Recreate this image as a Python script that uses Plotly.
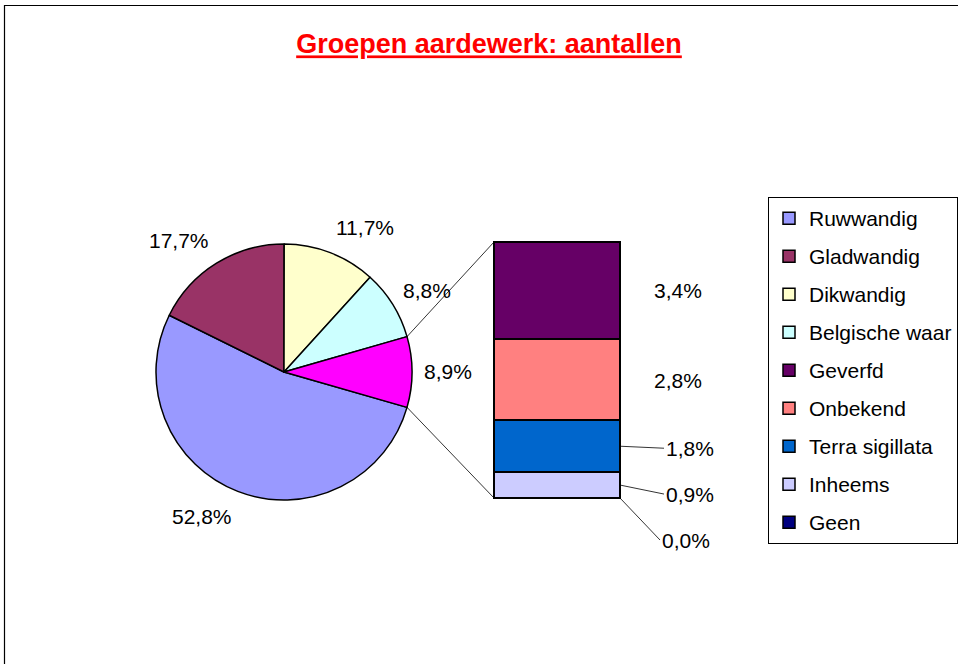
import math
import plotly.graph_objects as go

# ---------------- data ----------------
title_text = "Groepen aardewerk: aantallen"

pie_labels = ["Ruwwandig", "Gladwandig", "Dikwandig", "Belgische waar", "Overige"]
pie_values = [52.8, 17.7, 11.7, 8.8, 8.9]
pie_colors = ["#9999FF", "#993366", "#FFFFCC", "#CCFFFF", "#FF00FF"]

bar_labels = ["Geverfd", "Onbekend", "Terra sigillata", "Inheems", "Geen"]
bar_values = [3.4, 2.8, 1.8, 0.9, 0.0]
bar_colors = ["#660066", "#FF8080", "#0066CC", "#CCCCFF", "#000080"]

legend_order = ["Ruwwandig", "Gladwandig", "Dikwandig", "Belgische waar",
                "Geverfd", "Onbekend", "Terra sigillata", "Inheems", "Geen"]

# ---------------- layout geometry (pixels) ----------------
W, H = 958, 664
PIE_CX, PIE_CY, PIE_R = 284, 372, 128
BAR_L, BAR_R, BAR_T, BAR_B = 494, 620, 242, 498
FONT = "Arial, 'Liberation Sans', sans-serif"
FS = 21


def px(x):
    return x / W


def py(y):
    return 1 - y / H


def fmt(v):
    return f"{v:.1f}".replace(".", ",") + "%"


fig = go.Figure()

# ---------------- pie ----------------
total = sum(pie_values)
other_idx = len(pie_values) - 1
rotation = 90 + 180 * pie_values[other_idx] / total  # "other" slice centred at 3 o'clock

fig.add_trace(go.Pie(
    labels=pie_labels, values=pie_values, sort=False, direction="clockwise",
    rotation=rotation, textinfo="none", showlegend=False, hoverinfo="label+percent",
    marker=dict(colors=pie_colors, line=dict(color="black", width=1.5)),
    domain=dict(x=[px(PIE_CX - PIE_R), px(PIE_CX + PIE_R)],
                y=[py(PIE_CY + PIE_R), py(PIE_CY - PIE_R)]),
))

annotations = []
shapes = []
ang = rotation
slice_edges = []
for lab, v in zip(pie_labels, pie_values):
    a0 = ang
    a1 = ang + v / total * 360
    slice_edges.append((a0, a1))
    mid = math.radians((a0 + a1) / 2)
    s, c = math.sin(mid), math.cos(mid)
    d = PIE_R + 10
    x = PIE_CX + d * s
    y = PIE_CY - d * c - 17 * c
    annotations.append(dict(
        x=px(x), y=py(y), xref="paper", yref="paper", showarrow=False,
        xanchor="left" if s > 0.05 else ("right" if s < -0.05 else "center"),
        yanchor="middle", text=fmt(v), font=dict(family=FONT, size=FS, color="black")))
    ang = a1

# connector lines from "other" slice to the bar
oa0, oa1 = slice_edges[other_idx]
for a, by in ((oa0, BAR_T), (oa1, BAR_B)):
    r = math.radians(a)
    x0 = PIE_CX + PIE_R * math.sin(r)
    y0 = PIE_CY - PIE_R * math.cos(r)
    shapes.append(dict(type="line", xref="paper", yref="paper",
                       x0=px(x0), y0=py(y0), x1=px(BAR_L), y1=py(by),
                       line=dict(color="black", width=0.8)))

# ---------------- stacked bar ----------------
bar_total = sum(bar_values)
unit = (BAR_B - BAR_T) / bar_total
pad_y = 1.5 / unit
pad_x = 1.5 / (BAR_R - BAR_L)

rank = {n: i for i, n in enumerate(legend_order)}

for lab, v, col in reversed(list(zip(bar_labels, bar_values, bar_colors))):
    fig.add_trace(go.Bar(
        x=[0], y=[v], width=1, name=lab, legendgroup=lab, legendrank=rank[lab],
        marker=dict(color=col, line=dict(color="black", width=1.5)),
        hoverinfo="name+y",
    ))

# legend-only entries for the pie slices
for lab, col in zip(pie_labels[:other_idx], pie_colors[:other_idx]):
    fig.add_trace(go.Bar(
        x=[None], y=[None], name=lab, legendgroup=lab, legendrank=rank[lab],
        marker=dict(color=col, line=dict(color="black", width=1.5)),
        showlegend=True,
    ))

# bar labels
leader = {"Terra sigillata": (44, 2), "Inheems": (44, 9), "Geen": (40, 42)}
cum = 0
bottoms = {}
for lab, v in reversed(list(zip(bar_labels, bar_values))):
    bottoms[lab] = cum
    cum += v
for lab, v in zip(bar_labels, bar_values):
    ymid = bottoms[lab] + v / 2
    if lab in leader:
        ax, ay = leader[lab]
        annotations.append(dict(
            x=0.5, y=ymid, xref="x", yref="y", showarrow=True, arrowhead=0,
            arrowwidth=0.8, arrowcolor="black", ax=ax, ay=ay, xanchor="left",
            text=fmt(v), font=dict(family=FONT, size=FS, color="black")))
    else:
        annotations.append(dict(
            x=px(652), y=ymid, xref="paper", yref="y", showarrow=False,
            xanchor="left", yanchor="middle",
            text=fmt(v), font=dict(family=FONT, size=FS, color="black")))

# outer chart border (top/left visible; rest cut off)
shapes.append(dict(type="rect", xref="paper", yref="paper",
                   x0=px(4.5), x1=1.2, y0=-0.2, y1=py(5.5),
                   line=dict(color="black", width=1.2), layer="below"))

fig.update_layout(
    width=W, height=H, margin=dict(l=0, r=0, t=0, b=0),
    paper_bgcolor="white", plot_bgcolor="rgba(0,0,0,0)",
    barmode="stack", bargap=0,
    title=dict(text="<u>" + title_text + "</u>", x=px(489), y=py(44),
               xanchor="center", yanchor="middle", xref="paper", yref="paper",
               font=dict(family=FONT, size=27, color="#FF0000", weight="bold")),
    xaxis=dict(domain=[px(BAR_L - 1.5), px(BAR_R + 1.5)],
               range=[-0.5 - pad_x, 0.5 + pad_x], visible=False, fixedrange=True),
    yaxis=dict(domain=[py(BAR_B + 1.5), py(BAR_T - 1.5)],
               range=[-pad_y, bar_total + pad_y], visible=False, fixedrange=True),
    legend=dict(x=px(768), y=py(197), xanchor="left", yanchor="top",
                bordercolor="black", borderwidth=1, bgcolor="white",
                font=dict(family=FONT, size=FS, color="black"),
                traceorder="grouped", tracegroupgap=7.7),
    annotations=annotations, shapes=shapes,
    showlegend=True,
)

fig.write_html("out.html", config={"responsive": False, "displayModeBar": False},
               post_script="document.body.style.margin='0px';")
